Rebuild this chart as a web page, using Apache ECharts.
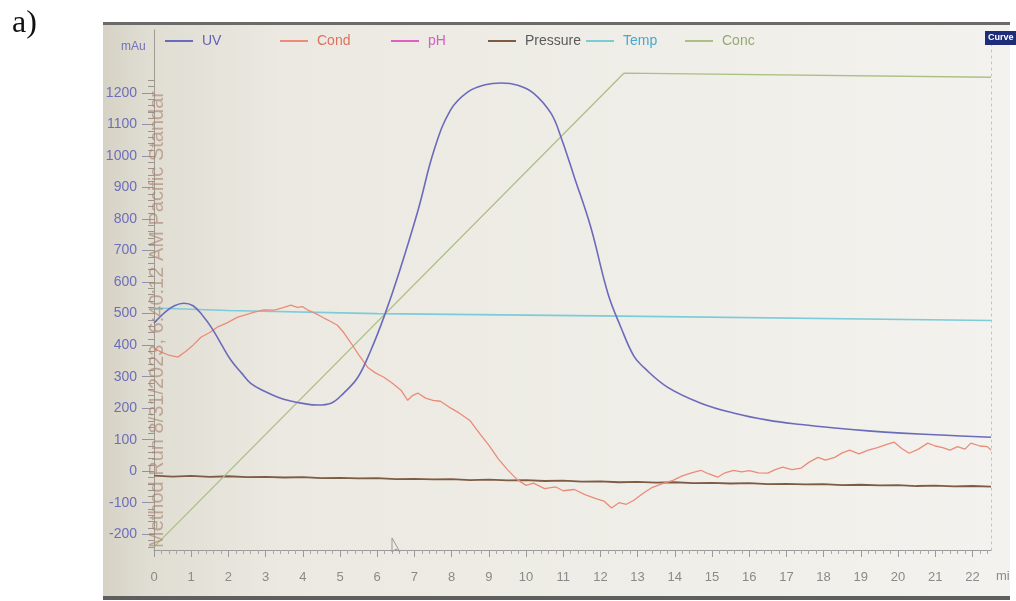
<!DOCTYPE html>
<html>
<head>
<meta charset="utf-8">
<script src="https://cdn.jsdelivr.net/npm/echarts@6/dist/echarts.min.js"></script>
<style>
  html, body { margin: 0; padding: 0; background: #ffffff; }
  #chart { width: 1016px; height: 601px; }
</style>
</head>
<body>
<div id="chart"></div>
<script>
// ---------- data ----------
const xTickLabels = [0,1,2,3,4,5,6,7,8,9,10,11,12,13,14,15,16,17,18,19,20,21,22];
const yTickLabels = [-200,-100,0,100,200,300,400,500,600,700,800,900,1000,1100,1200];

const uvTime   = [0,0.3,0.55,0.8,1.05,1.3,1.55,1.8,2.07,2.35,2.6,3.0,3.33,3.7,3.95,4.4,4.76,5.1,5.48,5.83,6.18,6.55,7.1,7.53,7.97,8.43,8.9,9.33,9.78,10.2,10.67,10.94,11.3,11.74,12.2,12.55,12.9,13.16,13.8,14.7,15.6,16.5,17.4,18.3,19.2,20.1,21.3,22.5];
const uvValues = [470,505,525,533,525,495,455,405,352,312,279,252,235,222,216,210,216,248,298,384,489,616,829,1019,1146,1203,1226,1232,1225,1200,1136,1060,933,775,565,457,365,330,267,216,184,162,148,137,128,121,114,108];

const condTime   = [0,0.2,0.4,0.64,0.85,1.05,1.26,1.5,1.7,1.95,2.25,2.5,2.7,2.95,3.23,3.45,3.68,3.85,4.0,4.14,4.35,4.57,4.75,4.93,5.1,5.3,5.5,5.74,5.95,6.18,6.4,6.64,6.82,6.95,7.09,7.3,7.5,7.7,7.98,8.2,8.5,8.75,9.0,9.25,9.5,9.75,10.0,10.2,10.5,10.8,11.0,11.3,11.6,11.9,12.1,12.3,12.5,12.7,12.9,13.15,13.4,13.65,13.95,14.2,14.45,14.7,14.9,15.15,15.35,15.58,15.8,16.0,16.25,16.5,16.7,16.9,17.15,17.4,17.6,17.85,18.05,18.3,18.5,18.7,18.95,19.2,19.45,19.7,19.9,20.1,20.3,20.55,20.8,21.0,21.2,21.4,21.6,21.8,21.96,22.2,22.4,22.5];
const condValues = [390,378,368,362,380,400,425,440,457,470,489,498,505,512,511,518,527,520,522,511,500,486,475,463,440,406,370,330,312,298,280,257,225,240,248,232,225,222,200,185,160,120,83,40,5,-25,-45,-38,-55,-50,-62,-58,-75,-88,-95,-117,-100,-105,-92,-70,-51,-40,-29,-15,-5,3,-8,-19,-5,3,-2,2,-5,-6,5,13,5,10,28,44,35,44,58,67,55,67,75,85,92,72,57,70,89,80,75,67,78,70,89,80,78,67];

const pressureTime   = [0,0.5,1,1.5,2,2.5,3,3.5,4,4.5,5,5.5,6,6.5,7,7.5,8,8.5,9,9.5,10,10.5,11,11.5,12,12.5,13,13.5,14,14.5,15,15.5,16,16.5,17,17.5,18,18.5,19,19.5,20,20.5,21,21.5,22,22.5];
const pressureValues = [-14,-17,-15,-18,-16,-19,-18,-20,-19,-22,-21,-23,-22,-25,-24,-26,-25,-28,-27,-29,-28,-31,-30,-33,-32,-35,-34,-36,-35,-38,-37,-39,-38,-41,-40,-42,-41,-44,-43,-45,-44,-47,-46,-48,-47,-49];

const tempTime   = [0,2,6,12,22.5];
const tempValues = [518,510,500,493,478];

const concTime   = [0,12.63,22.5];
const concValues = [-240,1263,1250];

const phTime = [];
const phValues = [];

const seriesNames = ['UV','Cond','pH','Pressure','Temp','Conc'];

// ---------- build ----------
function pairs(t, v) { return t.map((x, i) => [x, v[i]]); }
const yMinorTicks = [];
for (let v = -240; v <= 1240; v += 20) yMinorTicks.push(v);

const lineColors = { UV:'#6b6bbb', Cond:'#ec8b78', pH:'#dd5fc4', Pressure:'#7e5c44', Temp:'#7ccbd9', Conc:'#abc183' };
const textColors = { UV:'#6262b8', Cond:'#e2705e', pH:'#d45fc6', Pressure:'#5a5a5a', Temp:'#45a9d2', Conc:'#93aa74' };
const legendLeft = { UV:160, Cond:275, pH:386, Pressure:483, Temp:581, Conc:680 };

const chart = echarts.init(document.getElementById('chart'), null, { renderer: 'canvas' });

const font = 'Liberation Sans, Arial, sans-serif';

const legends = seriesNames.map(n => ({
  left: legendLeft[n], top: 29, orient: 'horizontal',
  data: [n], itemWidth: 28, itemHeight: 2, icon: 'rect', selectedMode: false,
  itemStyle: { color: lineColors[n] },
  textStyle: { color: textColors[n], fontSize: 14, fontFamily: font, padding: [0,0,0,4] }
}));

const option = {
  animation: false,
  backgroundColor: '#ffffff',
  legend: legends,
  grid: { left: 154, right: 25, top: 30, bottom: 51, containLabel: false },
  xAxis: {
    type: 'value', min: 0, max: 22.5, interval: 1,
    axisLine: { show: true, onZero: false, lineStyle: { color: '#9a9a9a', width: 1 } },
    axisTick: { show: true, customValues: xTickLabels, length: 7, lineStyle: { color: '#9a9a9a' } },
    minorTick: { show: true, splitNumber: 5, length: 4, lineStyle: { color: '#a8a8a8' } },
    axisLabel: { customValues: xTickLabels, color: '#8a8a8a', fontSize: 13, fontFamily: font, margin: 21 },
    splitLine: { show: false }
  },
  yAxis: [
    {
      type: 'value', min: -250, max: 1400, interval: 50, position: 'left',
      axisLine: { show: true, onZero: false, lineStyle: { color: '#a09a90', width: 1 } },
      axisTick: { show: true, customValues: yTickLabels, length: 12, lineStyle: { color: '#9090b0' } },
      axisLabel: { customValues: yTickLabels, formatter: v => String(v), color: '#6e6eb8', fontSize: 14, fontFamily: font, margin: 17 },
      splitLine: { show: false }
    },
    {
      type: 'value', min: -250, max: 1400, interval: 50, position: 'left',
      axisLine: { show: false, onZero: false },
      axisTick: { show: true, customValues: yMinorTicks, length: 6, lineStyle: { color: '#9a948a' } },
      axisLabel: { show: false },
      splitLine: { show: false }
    },
    {
      type: 'value', min: -250, max: 1400, interval: 50, position: 'right',
      axisLine: { show: true, onZero: false, lineStyle: { color: '#c4c2bc', type: [2, 4], width: 1 } },
      axisTick: { show: false },
      axisLabel: { show: false },
      splitLine: { show: false }
    }
  ],
  series: [
    { name: 'UV', type: 'line', data: pairs(uvTime, uvValues), smooth: 0.4, symbol: 'none', lineStyle: { color: lineColors.UV, width: 1.6 }, itemStyle: { color: lineColors.UV }, z: 5 },
    { name: 'Cond', type: 'line', data: pairs(condTime, condValues), symbol: 'none', lineStyle: { color: lineColors.Cond, width: 1.3 }, itemStyle: { color: lineColors.Cond }, z: 4 },
    { name: 'pH', type: 'line', data: pairs(phTime, phValues), symbol: 'none', lineStyle: { color: lineColors.pH, width: 1.3 }, itemStyle: { color: lineColors.pH } },
    { name: 'Pressure', type: 'line', data: pairs(pressureTime, pressureValues), symbol: 'none', lineStyle: { color: lineColors.Pressure, width: 1.8 }, itemStyle: { color: lineColors.Pressure }, z: 3 },
    { name: 'Temp', type: 'line', data: pairs(tempTime, tempValues), symbol: 'none', lineStyle: { color: lineColors.Temp, width: 1.6 }, itemStyle: { color: lineColors.Temp }, z: 3 },
    { name: 'Conc', type: 'line', data: pairs(concTime, concValues), symbol: 'none', lineStyle: { color: lineColors.Conc, width: 1.3 }, itemStyle: { color: lineColors.Conc }, z: 3 }
  ],
  graphic: [
    { type: 'rect', z: -10, silent: true, shape: { x: 103, y: 24, width: 907, height: 573 },
      style: { fill: new echarts.graphic.LinearGradient(0, 0, 1, 0, [
        { offset: 0, color: '#d6d2c5' }, { offset: 0.05, color: '#e0ddd3' },
        { offset: 0.2, color: '#ebe9e1' }, { offset: 1, color: '#f3f2ee' }]) } },
    { type: 'rect', z: -9, silent: true, shape: { x: 103, y: 22, width: 907, height: 3 }, style: { fill: '#6a6a68' } },
    { type: 'rect', z: -9, silent: true, shape: { x: 103, y: 596, width: 907, height: 4 }, style: { fill: '#5e5e5c' } },
    { type: 'text', z: 100, silent: true, style: { x: 12, y: 24, text: 'a)', fill: '#111111', font: '32px "Liberation Serif", "Times New Roman", serif', textVerticalAlign: 'middle' } },
    { type: 'text', z: 100, silent: true, style: { x: 121, y: 47, text: 'mAu', fill: '#7272b8', font: '12px "Liberation Sans", Arial, sans-serif', textVerticalAlign: 'middle' } },
    { type: 'text', z: 100, silent: true, x: 157, y: 548, rotation: Math.PI / 2,
      style: { x: 0, y: 0, text: 'Method Run 8/31/2023, 6:40:12 AM Pacific Standar', fill: 'rgba(165,125,110,0.6)', font: '20px "Liberation Sans", Arial, sans-serif', textAlign: 'left', textVerticalAlign: 'middle' } },
    { type: 'rect', z: 100, silent: true, shape: { x: 985, y: 31, width: 31, height: 14 }, style: { fill: '#1e2c7c' } },
    { type: 'text', z: 101, silent: true, style: { x: 988, y: 38, text: 'Curve', fill: '#ffffff', font: 'bold 9px "Liberation Sans", Arial, sans-serif', textVerticalAlign: 'middle' } },
    { type: 'text', z: 100, silent: true, style: { x: 996, y: 576, text: 'mi', fill: '#8a8a8a', font: '13px "Liberation Sans", Arial, sans-serif', textVerticalAlign: 'middle' } },
    { type: 'polygon', z: 100, silent: true, shape: { points: [[392,538],[392,552],[396,549],[400,552]] }, style: { fill: 'none', stroke: '#9a9a9a', lineWidth: 1 } }
  ]
};
chart.setOption(option);
</script>
</body>
</html>
